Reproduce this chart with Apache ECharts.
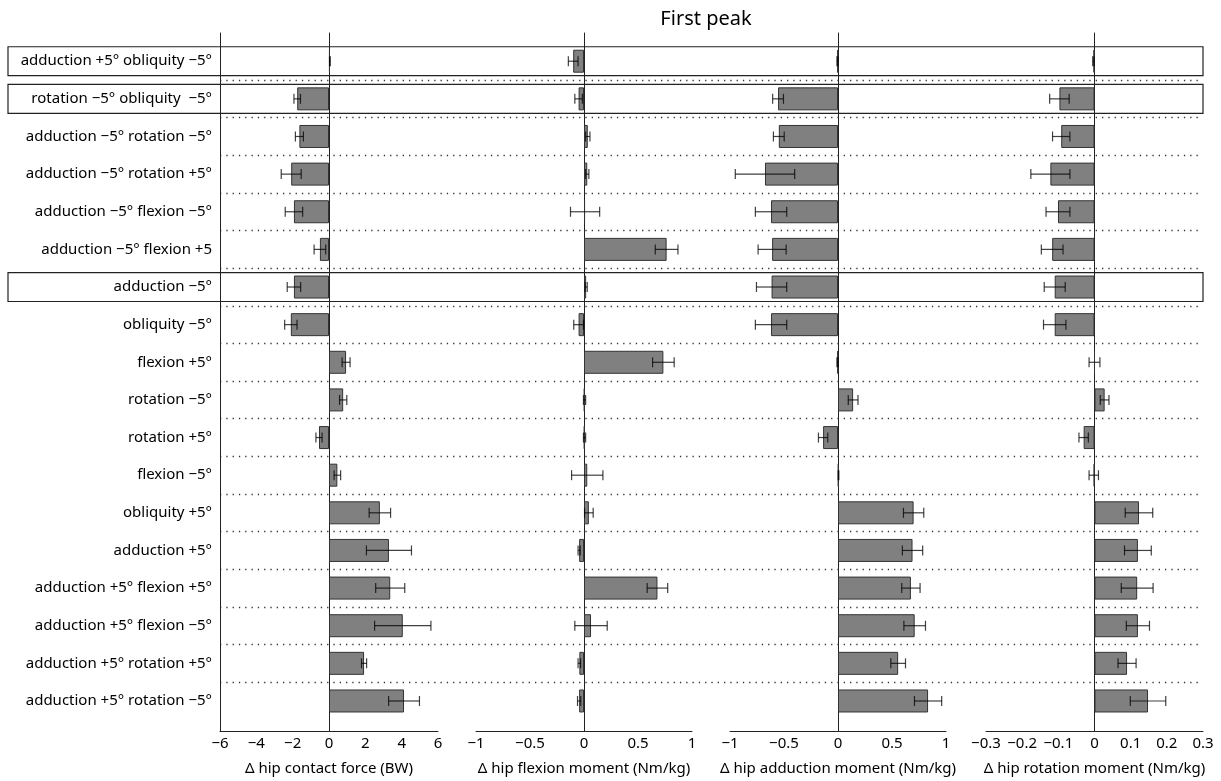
<!DOCTYPE html>
<html>
<head>
<meta charset="utf-8">
<script src="https://cdn.jsdelivr.net/npm/echarts@6/dist/echarts.min.js"></script>
<style>
html, body { margin: 0; padding: 0; background: #fff; }
#main { width: 1221px; height: 781px; }
</style>
</head>
<body>
<div id="main"></div>
<script>
var categories = [
    'adduction +5° obliquity −5°',
    'rotation −5° obliquity  −5°',
    'adduction −5° rotation −5°',
    'adduction −5° rotation +5°',
    'adduction −5° flexion −5°',
    'adduction −5° flexion +5',
    'adduction −5°',
    'obliquity −5°',
    'flexion +5°',
    'rotation −5°',
    'rotation +5°',
    'flexion −5°',
    'obliquity +5°',
    'adduction +5°',
    'adduction +5° flexion +5°',
    'adduction +5° flexion −5°',
    'adduction +5° rotation +5°',
    'adduction +5° rotation −5°'
];
// rows framed by a box
var boxedRows = ['adduction +5° obliquity −5°', 'rotation −5° obliquity  −5°', 'adduction −5°'];

var forceMean = [0.05, -1.75, -1.63, -2.08, -1.93, -0.5, -1.93, -2.1, 0.94, 0.78, -0.55, 0.46, 2.8, 3.3, 3.37, 4.06, 1.93, 4.13];
var forceErr = [0.02, 0.18, 0.22, 0.55, 0.48, 0.32, 0.37, 0.34, 0.22, 0.2, 0.17, 0.18, 0.59, 1.24, 0.8, 1.55, 0.14, 0.85];

var flexMean = [-0.1, -0.05, 0.035, 0.03, 0.01, 0.765, 0.02, -0.05, 0.735, 0.005, 0.005, 0.03, 0.045, -0.045, 0.68, 0.065, -0.043, -0.045];
var flexErr = [0.045, 0.035, 0.02, 0.015, 0.135, 0.105, 0.01, 0.045, 0.1, 0.01, 0.01, 0.145, 0.04, 0.01, 0.095, 0.15, 0.012, 0.015];

var adductMean = [-0.005, -0.555, -0.548, -0.676, -0.62, -0.61, -0.615, -0.62, -0.005, 0.14, -0.138, 0.005, 0.7, 0.69, 0.675, 0.71, 0.557, 0.834];
var adductErr = [0.005, 0.05, 0.05, 0.275, 0.145, 0.13, 0.14, 0.145, 0.005, 0.045, 0.043, 0.003, 0.094, 0.094, 0.085, 0.1, 0.068, 0.126];

var rotMean = [-0.003, -0.097, -0.092, -0.122, -0.101, -0.117, -0.11, -0.11, 0.0, 0.028, -0.03, -0.002, 0.123, 0.12, 0.118, 0.12, 0.09, 0.148];
var rotErr = [0.002, 0.027, 0.024, 0.054, 0.033, 0.03, 0.029, 0.031, 0.015, 0.012, 0.013, 0.013, 0.038, 0.037, 0.044, 0.032, 0.025, 0.049];

var axisNames = ['Δ hip contact force (BW)', 'Δ hip flexion moment (Nm/kg)', 'Δ hip adduction moment (Nm/kg)', 'Δ hip rotation moment (Nm/kg)'];
var axisMin = [-6, -1, -1, -0.3];
var axisMax = [6, 1, 1, 0.3];
var axisStep = [2, 0.5, 0.5, 0.1];

var means = [forceMean, flexMean, adductMean, rotMean];
var errs = [forceErr, flexErr, adductErr, rotErr];

// layout
var panelLeft = [220, 476, 730, 986];
var panelWidth = [218, 216, 216, 217];
var rowsTop = 42.4, rowsHeight = 677.4;
var frameTop = 33, frameHeight = 707;
var FONT = 'Noto Sans';

var dom = document.getElementById('main');
var myChart = echarts.init(dom);

function minusFmt(v) {
    var s = String(Math.round(v * 1000) / 1000);
    return s.replace('-', '\u2212');
}

function errorItem(params, api) {
    var lo = api.coord([api.value(0), api.value(2)]);
    var hi = api.coord([api.value(1), api.value(2)]);
    var cap = 5;
    var st = { stroke: 'rgba(0,0,0,0.75)', lineWidth: 1.2 };
    return {
        type: 'group',
        children: [
            { type: 'line', shape: { x1: lo[0], y1: lo[1], x2: hi[0], y2: hi[1] }, style: st },
            { type: 'line', shape: { x1: lo[0], y1: lo[1] - cap, x2: lo[0], y2: lo[1] + cap }, style: st },
            { type: 'line', shape: { x1: hi[0], y1: hi[1] - cap, x2: hi[0], y2: hi[1] + cap }, style: st }
        ]
    };
}

function boxItem(params, api) {
    var cs = params.coordSys;
    var c = api.coord([0, api.value(1)]);
    var h = api.size([0, 1])[1] * 0.77;
    return {
        type: 'rect',
        shape: { x: cs.x, y: c[1] - h / 2, width: cs.width, height: h },
        style: { fill: 'none', stroke: '#222', lineWidth: 1.2 }
    };
}

var grid = [], xAxis = [], yAxis = [], series = [];

// data grids 0..3
for (var i = 0; i < 4; i++) {
    grid.push({ left: panelLeft[i], width: panelWidth[i], top: rowsTop, height: rowsHeight });
    xAxis.push({ type: 'value', gridIndex: i, min: axisMin[i], max: axisMax[i], show: false });
    yAxis.push({
        type: 'category', gridIndex: i, data: categories, inverse: true,
        axisLine: { show: false }, axisTick: { show: false }, splitLine: { show: false },
        axisLabel: { show: i === 0, margin: 8, color: '#000', fontSize: 15, fontFamily: FONT }
    });
    series.push({
        type: 'bar', xAxisIndex: i, yAxisIndex: i, data: means[i], barWidth: 23,
        itemStyle: { color: '#808080', borderColor: '#333', borderWidth: 1 },
        z: 3
    });
    series.push({
        type: 'custom', xAxisIndex: i, yAxisIndex: i, renderItem: errorItem,
        encode: { x: [0, 1], y: 2 },
        data: categories.map(function (c, k) {
            return [means[i][k] - errs[i][k], means[i][k] + errs[i][k], k];
        }),
        z: 4
    });
}

// frame grids 4..7: bottom axis and zero line
for (var j = 0; j < 4; j++) {
    grid.push({ left: panelLeft[j], width: panelWidth[j], top: frameTop, height: frameHeight });
    xAxis.push({
        type: 'value', gridIndex: 4 + j, min: axisMin[j], max: axisMax[j], interval: axisStep[j],
        position: 'bottom',
        name: axisNames[j], nameLocation: 'middle', nameGap: 30,
        nameTextStyle: { color: '#000', fontSize: 15, fontFamily: FONT },
        axisLine: { onZero: false, lineStyle: { color: '#222', width: 1 } },
        axisTick: { show: false }, splitLine: { show: false },
        axisLabel: { margin: 5, color: '#000', fontSize: 15, fontFamily: FONT, formatter: minusFmt }
    });
    yAxis.push({
        type: 'value', gridIndex: 4 + j, min: 0, max: 1,
        axisLine: { show: true, onZero: true, lineStyle: { color: '#222', width: 1 } },
        axisTick: { show: false }, axisLabel: { show: false }, splitLine: { show: false }
    });
}
// left border of the first panel
yAxis.push({
    type: 'value', gridIndex: 4, min: 0, max: 1, position: 'left',
    axisLine: { show: true, onZero: false, lineStyle: { color: '#222', width: 1 } },
    axisTick: { show: false }, axisLabel: { show: false }, splitLine: { show: false }
});

// separator grid 8: dotted lines between rows
grid.push({ left: 220, width: 980, top: rowsTop, height: rowsHeight });
xAxis.push({ type: 'value', gridIndex: 8, min: 0, max: 1, show: false });
yAxis.push({
    type: 'category', gridIndex: 8, data: categories, inverse: true,
    axisLine: { show: false }, axisTick: { show: false }, axisLabel: { show: false },
    splitLine: {
        show: true, showMinLine: false, showMaxLine: false,
        lineStyle: { color: '#333', width: 1.3, type: [1.3, 5] }
    }
});

// box grid 9: frames around selected rows
grid.push({ left: 8, width: 1195, top: rowsTop, height: rowsHeight });
xAxis.push({ type: 'value', gridIndex: 9, min: 0, max: 1, show: false });
yAxis.push({
    type: 'category', gridIndex: 9, data: categories, inverse: true, show: false
});
series.push({
    type: 'custom', xAxisIndex: 9, yAxisIndex: yAxis.length - 1, renderItem: boxItem,
    encode: { x: 0, y: 1 },
    data: boxedRows.map(function (name) { return [0, name]; }),
    z: 5
});

var option = {
    backgroundColor: '#fff',
    animation: false,
    title: {
        text: 'First peak', left: 701, top: 4, textAlign: 'center',
        textStyle: { color: '#000', fontSize: 20, fontWeight: 'normal', fontFamily: FONT }
    },
    grid: grid,
    xAxis: xAxis,
    yAxis: yAxis,
    series: series
};

if (option && typeof option === "object") {
    myChart.setOption(option, true);
}
window.addEventListener("resize", function () {
    myChart.resize();
});
</script>
</body>
</html>
